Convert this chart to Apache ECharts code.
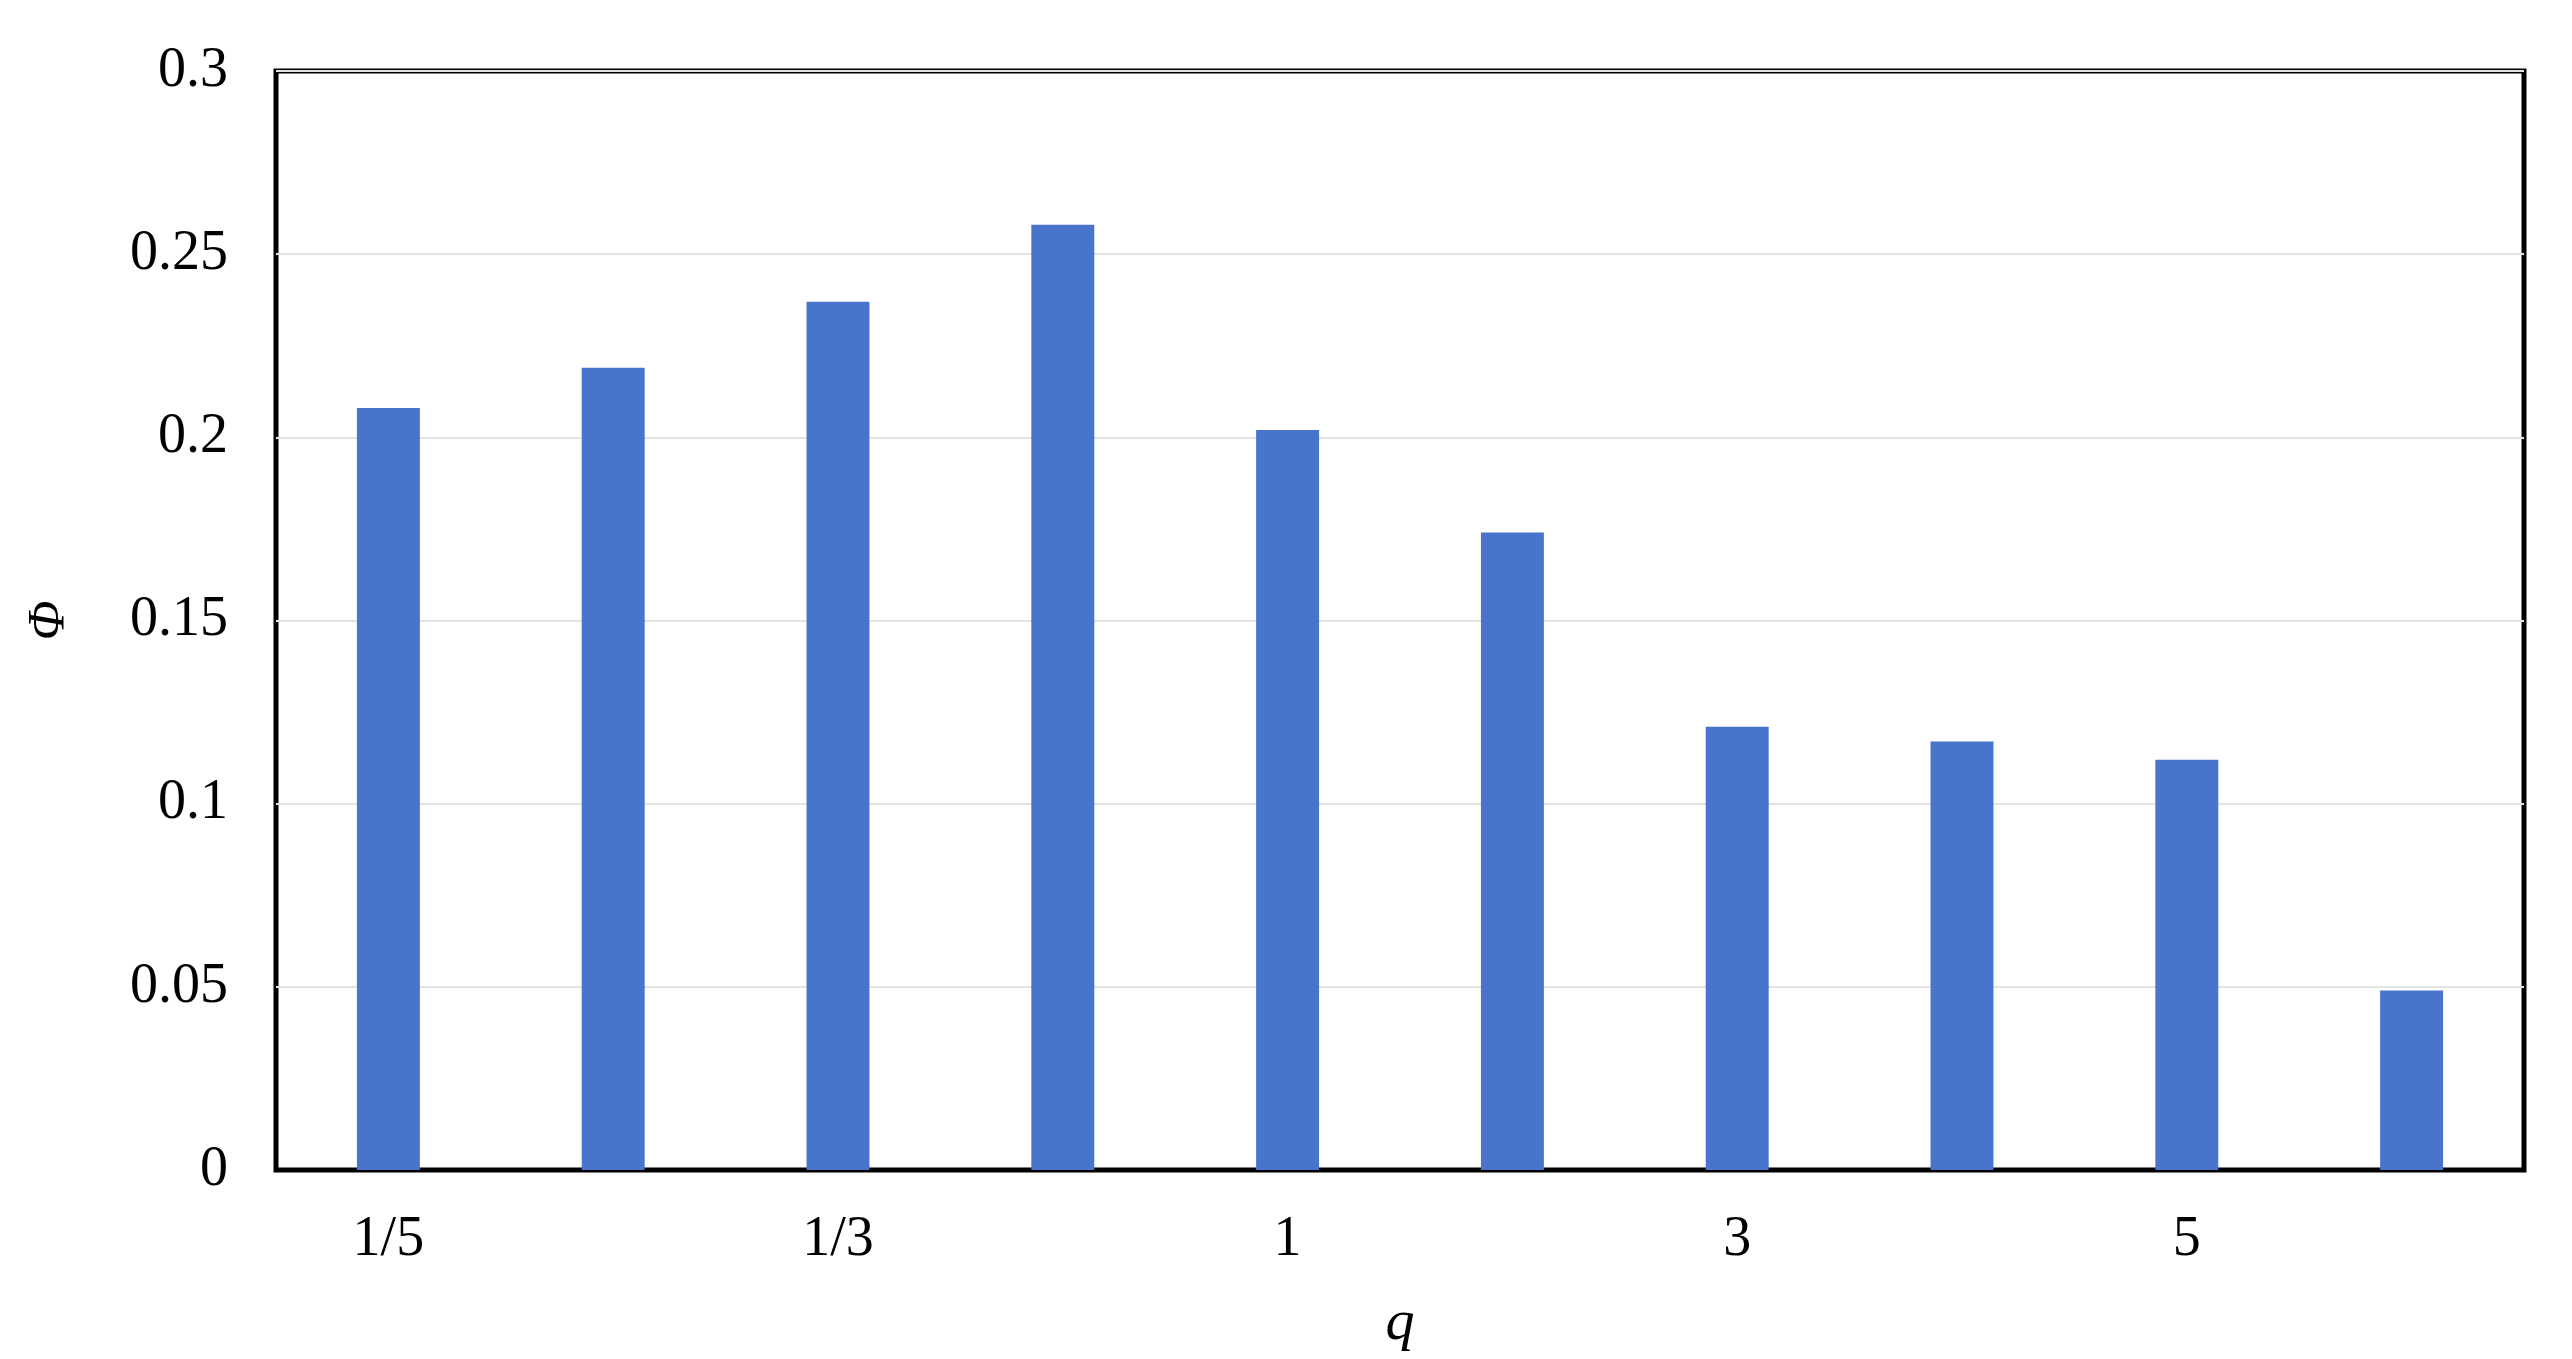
<!DOCTYPE html>
<html>
<head>
<meta charset="utf-8">
<script src="https://cdn.jsdelivr.net/npm/echarts@6/dist/echarts.min.js"></script>
<style>html,body{margin:0;background:#fff}#c{width:2572px;height:1359px}</style>
</head>
<body>
<div id="c"></div>
<script>
var categories = ['1/5', '1/4', '1/3', '1/2', '1', '2', '3', '4', '5', 'Uniform'];
var values = [0.208, 0.219, 0.237, 0.258, 0.202, 0.174, 0.121, 0.117, 0.112, 0.049];
var yTicks = [0, 0.05, 0.1, 0.15, 0.2, 0.25, 0.3];

var font = 'Liberation Serif';
var chart = echarts.init(document.getElementById('c'));
chart.setOption({
    animation: false,
    grid: {left: 276, right: 48, top: 71, bottom: 189, show: true, borderColor: '#000', borderWidth: 5, backgroundColor: 'transparent'},
    xAxis: {
        type: 'category',
        data: categories,
        name: 'q',
        nameLocation: 'middle',
        nameGap: 125,
        nameTextStyle: {fontFamily: font, fontSize: 58, fontStyle: 'italic', color: '#000'},
        axisTick: {show: false},
        axisLine: {lineStyle: {color: '#000', width: 3}},
        axisLabel: {fontFamily: font, fontSize: 56, color: '#000', margin: 42}
    },
    yAxis: {
        type: 'value',
        min: 0, max: 0.3, interval: 0.05,
        name: 'Φ',
        nameLocation: 'middle',
        nameGap: 200,
        nameRotate: 90,
        nameTextStyle: {fontFamily: font, fontSize: 52, fontStyle: 'italic', color: '#000'},
        axisLine: {show: false},
        axisTick: {show: false},
        splitLine: {lineStyle: {color: '#e3e3e3', width: 2}},
        axisLabel: {
            fontFamily: font, fontSize: 56, color: '#000', margin: 48,
            formatter: function (v) { return yTicks.indexOf(+v.toFixed(2)) >= 0 ? String(+v.toFixed(2)) : ''; }
        }
    },
    series: [{
        type: 'bar',
        data: values,
        barWidth: '28%',
        itemStyle: {color: '#4874CB'}
    }]
});
</script>
</body>
</html>
